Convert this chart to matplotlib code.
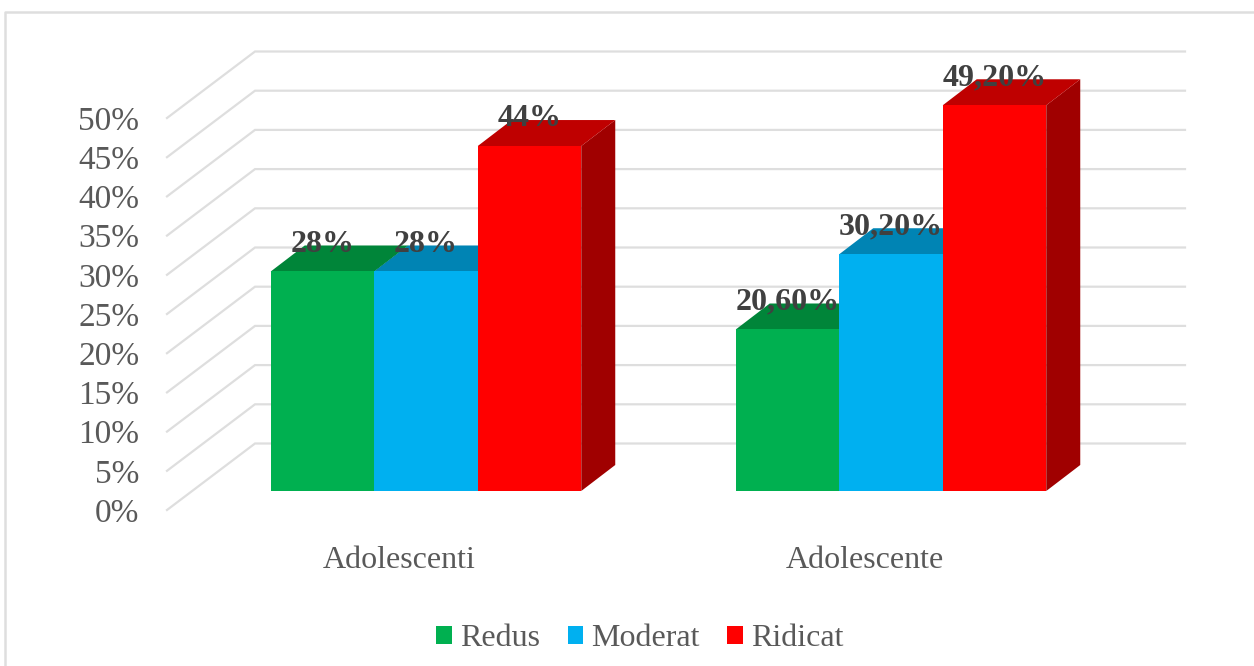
import matplotlib
matplotlib.use("Agg")
import matplotlib.pyplot as plt
from matplotlib.lines import Line2D
from matplotlib.patches import Patch, Polygon

# ---------- data ----------
categorii = ["Adolescenti", "Adolescente"]
redus = [28, 20.6]
moderat = [28, 30.2]
ridicat = [44, 49.2]
etichete_redus = ["28%", "20,60%"]
etichete_moderat = ["28%", "30,20%"]
etichete_ridicat = ["44%", "49,20%"]
valori_y = [0, 5, 10, 15, 20, 25, 30, 35, 40, 45, 50]

# ---------- style ----------
W, H = 1254, 666
C_TEXT = "#595959"
C_ETICHETA = "#404040"
C_GRID = "#dedede"
CULORI = {"Redus": ("#00b050", "#008539", "#006a2d"),
          "Moderat": ("#00b0f0", "#0084b4", "#006a90"),
          "Ridicat": ("#ff0000", "#bf0000", "#a00000")}

plt.rcParams["font.family"] = ["Liberation Serif", "DejaVu Serif"]

fig = plt.figure(figsize=(W / 100, H / 100), dpi=100)

# the axes sit on the front edge of the 3D box
stanga, dreapta, jos, sus = 167, 1097, 510, 118
ax = fig.add_axes([stanga / W, 1 - jos / H, (dreapta - stanga) / W, (jos - sus) / H])
ax.set_xlim(-0.5, 1.5)
ax.set_ylim(0, 50)
ax.patch.set_visible(False)
for s in ax.spines.values():
    s.set_visible(False)

px_x = (dreapta - stanga) / 2
px_y = (jos - sus) / 50

# depth offsets, from pixels to data units
perete_dx, perete_dy = 88 / px_x, 66.5 / px_y
plan_dx, plan_dy = 26.5 / px_x, 19 / px_y
adanc_dx, adanc_dy = 34 / px_x, 26 / px_y
latime = 103.5 / px_x

# wall gridlines
for v in valori_y:
    ax.plot([-0.5, -0.5 + perete_dx, 1.5 + perete_dx], [v, v + perete_dy, v + perete_dy],
            color=C_GRID, lw=1.6, clip_on=False, zorder=1, solid_joinstyle="miter")

ax.set_yticks(valori_y)
ax.set_yticklabels([f"{v}%" for v in valori_y])
ax.set_xticks(range(len(categorii)))
ax.set_xticklabels(categorii)
ax.tick_params(axis="y", length=0, pad=20, labelsize=24, labelcolor=C_TEXT)
ax.tick_params(axis="x", length=0, pad=26, labelsize=23, labelcolor=C_TEXT)


def deseneaza_bara(x, v, culori, z):
    fata, top, lateral = culori
    b = plan_dy
    ax.add_patch(Polygon([(x + latime / 2, b), (x + latime / 2 + adanc_dx, b + adanc_dy),
                          (x + latime / 2 + adanc_dx, b + v + adanc_dy), (x + latime / 2, b + v)],
                         facecolor=lateral, edgecolor="none", clip_on=False, zorder=z))
    ax.add_patch(Polygon([(x - latime / 2, b + v), (x - latime / 2 + adanc_dx, b + v + adanc_dy),
                          (x + latime / 2 + adanc_dx, b + v + adanc_dy), (x + latime / 2, b + v)],
                         facecolor=top, edgecolor="none", clip_on=False, zorder=z))
    ax.bar(x, v, width=latime, bottom=b, color=fata, clip_on=False, zorder=z)


serii = [("Redus", redus, etichete_redus), ("Moderat", moderat, etichete_moderat),
         ("Ridicat", ridicat, etichete_ridicat)]

z = 2
for i in range(len(categorii)):
    for j, (nume, valori, etichete) in enumerate(serii):
        x = i + plan_dx + (j - 1) * latime
        deseneaza_bara(x, valori[i], CULORI[nume], z)
        z += 1

# data labels go over all the bars
for i in range(len(categorii)):
    for j, (nume, valori, etichete) in enumerate(serii):
        x = i + plan_dx + (j - 1) * latime
        ax.annotate(etichete[i], (x, valori[i] + plan_dy), xytext=(0, 19.6),
                    textcoords="offset points", ha="center", va="center",
                    fontsize=23, fontweight="bold", color=C_ETICHETA, zorder=50,
                    annotation_clip=False)

handles = [Patch(facecolor=CULORI[n][0], label=n) for n, _, _ in serii]
fig.legend(handles=handles, loc="center", bbox_to_anchor=(640 / W, 1 - 639 / H), ncol=3,
           frameon=False, fontsize=23, labelcolor=C_TEXT, handlelength=0.5, handleheight=0.5,
           handletextpad=0.25, columnspacing=0.85, borderpad=0)

# chart border: left and top only, the rest is cut off in the image
fig.add_artist(Line2D([4.5 / W, 4.5 / W, 1], [0, 1 - 12 / H, 1 - 12 / H],
                      transform=fig.transFigure, color=C_GRID, lw=1.8))

fig.savefig("out.png", dpi=100)
plt.close(fig)
